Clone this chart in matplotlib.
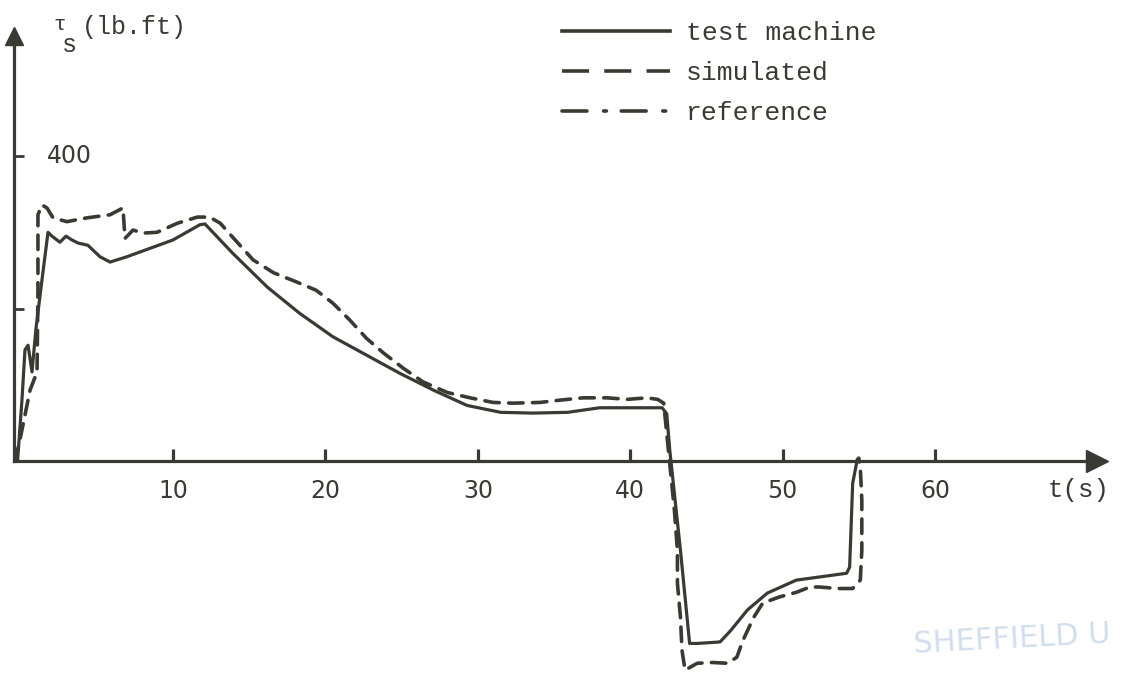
import matplotlib
matplotlib.use("Agg")
import matplotlib.pyplot as plt
from matplotlib.lines import Line2D

# ---- data ----
t_test = [-0.2, 0.09, 0.29, 0.49, 0.75, 1.0, 1.4, 1.8, 2.06, 2.58, 2.98, 3.37, 3.77, 4.42,
          5.21, 5.87, 6.98, 8.49, 10.0, 11.77, 12.1, 13.9, 16.2, 18.3, 20.5, 22.7, 24.9,
          27.1, 29.3, 31.5, 33.6, 35.9, 38.0, 40.2, 42.1, 42.4, 42.6, 43.3, 43.9, 44.4,
          45.2, 45.9, 46.6, 47.7, 49.0, 50.9, 53.1, 54.2, 54.4, 54.6, 54.9]
tau_test = [0, 80, 146, 152, 117, 172, 237, 300, 295, 287, 295, 290, 286, 283,
            268, 261, 268, 279, 290, 310, 311, 273, 228, 194, 163, 139, 115,
            93, 73, 64, 63, 64, 70, 70, 70, 62, 14, -117, -239, -239,
            -238, -237, -222, -195, -173, -156, -150, -147, -139, -29, 2]

t_sim = [-0.37, -0.04, 0.62, 1.08, 1.14, 1.14, 1.4, 1.73, 2.13, 3.04, 4.36, 5.87, 6.72,
         6.85, 7.38, 8.03, 8.95, 10.3, 11.6, 12.4, 13.1, 13.9, 15.25, 16.6, 18.1, 19.4,
         20.5, 21.6, 22.7, 23.8, 25.1, 26.4, 28.0, 29.5, 31.0, 32.3, 34.1, 35.4, 36.9,
         38.5, 39.8, 41.1, 41.8, 42.2, 42.9, 43.1, 43.1, 43.3, 43.4, 43.6, 44.4, 45.4,
         46.4, 47.0, 47.4, 48.1, 48.7, 49.8, 50.9, 51.8, 52.4, 53.6, 54.6, 55.1, 55.2,
         55.2, 55.1, 55.0]
tau_sim = [0, 28, 93, 117, 224, 323, 336, 332, 319, 314, 319, 323, 332,
           292, 303, 299, 300, 312, 320, 320, 312, 294, 264, 247, 235, 224,
           207, 185, 161, 142, 122, 104, 90, 83, 77, 76, 77, 80, 83,
           83, 81, 83, 81, 76, -64, -117, -160, -205, -248, -274, -265, -264,
           -265, -257, -235, -205, -186, -178, -172, -165, -165, -167, -167, -156, -117,
           -51, -8, 4]

x_ticks = [10, 20, 30, 40, 50, 60]
x_ticklabels = ["10", "20", "30", "40", "50", "60"]
y_ticks = [200, 400]
y_ticklabels = ["", "400"]
series_labels = ["test machine", "simulated", "reference"]

INK = "#3a3a34"
MONO = ["Liberation Mono", "DejaVu Sans Mono"]

fig = plt.figure(figsize=(11.27, 6.77), dpi=100)
ax = fig.add_axes([0, 0, 1, 1])
ax.set_xlim(-1.35, 72.6)
ax.set_ylim(-283, 604.6)
ax.patch.set_alpha(0)

for s in ["top", "right"]:
    ax.spines[s].set_visible(False)
ax.spines["bottom"].set_position(("data", 0))
ax.spines["left"].set_position(("data", -0.4))
ax.spines["bottom"].set_bounds(-0.4, 70.0)
ax.spines["left"].set_bounds(0, 555)
for s in ["bottom", "left"]:
    ax.spines[s].set_linewidth(2.3)
    ax.spines[s].set_color(INK)

# arrow heads
ax.plot([70.6], [0], marker=">", ms=16, color=INK, clip_on=False, mec=INK)
ax.plot([-0.4], [557], marker="^", ms=13, color=INK, clip_on=False, mec=INK)

ax.set_xticks(x_ticks)
ax.set_xticklabels(x_ticklabels)
ax.tick_params(axis="x", direction="in", length=9, width=2.3, color=INK,
               pad=13, labelsize=17, labelcolor=INK)
ax.set_yticks(y_ticks)
ax.set_yticklabels([""] * len(y_ticks))
ax.tick_params(axis="y", direction="in", length=7, width=2.0, color=INK)
ax.text(1.75, y_ticks[1], y_ticklabels[1], fontsize=17, color=INK, ha="left", va="center")

# curves
ax.plot(t_test, tau_test, color=INK, lw=2.3, solid_joinstyle="round", label=series_labels[0])
ax.plot(t_sim, tau_sim, color=INK, lw=2.6, dashes=(4.0, 2.6), dash_capstyle="round",
        label=series_labels[1])

# axis labels
ax.text(67.4, -38, "t(s)", fontsize=18.5, family=MONO, color=INK, ha="left", va="center")
ax.text(2.55, 573, "τ", fontsize=15, family=MONO, color=INK, ha="center", va="center")
ax.text(3.2, 546, "s", fontsize=18, family=MONO, color=INK, ha="center", va="center")
ax.text(4.05, 569, "(lb.ft)", fontsize=18, family=MONO, color=INK, ha="left", va="center")

# legend
handles = [
    Line2D([], [], color=INK, lw=2.6),
    Line2D([], [], color=INK, lw=2.6, dashes=(7.5, 4.2)),
    Line2D([], [], color=INK, lw=2.6, dashes=(6.9, 4.6, 0.8, 4.1), dash_capstyle="round"),
]
leg = ax.legend(handles, series_labels, loc="upper left", bbox_to_anchor=(0.482, 0.996),
                frameon=False, prop={"family": MONO, "size": 19}, handlelength=4.1,
                handletextpad=0.62, labelspacing=0.6, borderpad=0.2)
for txt in leg.get_texts():
    txt.set_color(INK)

# faint library stamp
ax.text(0.81, 0.055, "SHEFFIELD U", transform=ax.transAxes, fontsize=22,
        color="#7fa2d0", alpha=0.35, ha="left", va="center", rotation=3)

fig.savefig("out.png", dpi=100, facecolor="white")
